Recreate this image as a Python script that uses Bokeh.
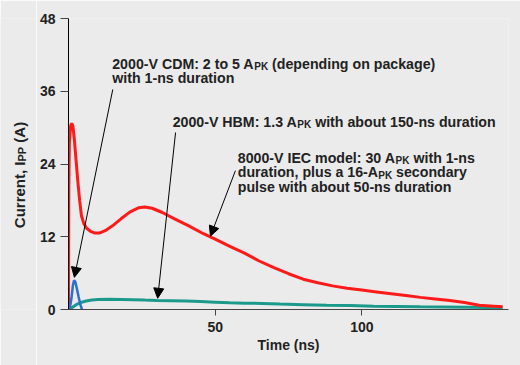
from bokeh.plotting import figure
from bokeh.models import Range1d, Label, Arrow, NormalHead, ColumnDataSource, FixedTicker
from bokeh.layouts import row
from bokeh.embed import file_html
from bokeh.resources import INLINE
import math

# ---- data (time in ns, current in A) ----
iec_t = [0, 0.1, 0.3, 0.7, 1.1, 1.5, 2.0, 2.6, 3.2, 3.8, 4.4, 5.2, 6.2, 7.5, 9.0, 10.5,
         12.5, 15, 18, 21, 24, 26, 28.5, 32, 36, 41, 46, 50, 55, 60, 65, 70, 75, 80,
         85, 90, 95, 100, 105, 110, 115, 120, 125, 130, 135, 140, 145, 148]
iec_i = [0, 20, 27.5, 30.2, 30.7, 30.3, 28, 24.5, 21, 18, 15.5, 14.2, 13.4, 12.9, 12.6, 12.6,
         13.0, 13.8, 15.0, 16.1, 16.8, 16.9, 16.7, 16.0, 15.0, 13.8, 12.5, 11.6, 10.4, 9.3, 8.0,
         6.9, 5.9, 5.0, 4.4, 3.9, 3.5, 3.2, 2.9, 2.6, 2.3, 2.0, 1.75, 1.5, 1.15, 0.7, 0.55, 0.45]

hbm_t = [0, 0.5, 1.5, 3, 4.5, 6, 8, 10, 14, 18, 22, 26, 30, 35, 40, 45, 50, 55, 60, 66,
         72, 80, 88, 96, 104, 112, 120, 128, 136, 142, 148]
hbm_i = [0, 0.05, 0.4, 0.9, 1.2, 1.4, 1.55, 1.65, 1.68, 1.67, 1.62, 1.55, 1.5, 1.45, 1.4,
         1.3, 1.2, 1.1, 1.05, 1.0, 0.9, 0.8, 0.7, 0.65, 0.55, 0.5, 0.45, 0.42, 0.38, 0.35, 0.3]

cdm_t = [0, 0.5, 1.0, 1.5, 1.9, 2.3, 2.8, 3.4, 4.0, 4.6]
cdm_i = [0, 0.4, 1.8, 4.0, 4.8, 4.6, 3.6, 2.2, 0.9, 0]

x_ticks = [50, 100]
y_ticks = [0, 12, 24, 36, 48]

# annotation arrows (start -> tip), data units
arr_x0 = [15.1, 36.5, 56.9]
arr_y0 = [36.3, 29.2, 22.9]
arr_x1 = [2.0, 30.4, 48.4]
arr_y1 = [5.3, 1.85, 12.1]

FONT = "Liberation Sans"
TXT = "#222222"
BG = "#ebebeb"

# Arial/Liberation Sans Bold advance widths (1/1000 em)
W = {' ': 278, '-': 333, ':': 333, ',': 278, '.': 278, '(': 333, ')': 333,
     'A': 722, 'B': 722, 'C': 722, 'D': 722, 'E': 667, 'H': 722, 'I': 278, 'K': 722,
     'M': 833, 'P': 667, 'T': 611, 'V': 667,
     'a': 556, 'b': 611, 'c': 556, 'd': 611, 'e': 556, 'g': 611, 'h': 611, 'i': 278,
     'k': 556, 'l': 278, 'm': 889, 'n': 611, 'o': 611, 'p': 611, 'r': 389, 's': 556,
     't': 333, 'u': 611, 'w': 778, 'y': 556}


def tw(s, size):
    return sum(W.get(c, 556) for c in s) / 1000.0 * size


SIDE_W = 36

# ---- main chart ----
p = figure(width=520 - SIDE_W, height=365, output_backend="svg", toolbar_location=None, tools="",
           x_range=Range1d(0, 150), y_range=Range1d(0, 48),
           min_border_left=67 - SIDE_W, min_border_right=12, min_border_top=18, min_border_bottom=56)
p.background_fill_color = BG
p.border_fill_color = BG
p.outline_line_color = None
p.xgrid.visible = False
p.ygrid.visible = False

for ax in (p.xaxis[0], p.yaxis[0]):
    ax.major_tick_in = 0
    ax.minor_tick_line_color = None
    ax.major_label_text_font = FONT
    ax.major_label_text_font_style = "bold"
    ax.major_label_text_font_size = "14px"
    ax.major_label_text_color = TXT

p.xaxis.ticker = FixedTicker(ticks=x_ticks)
p.yaxis.ticker = FixedTicker(ticks=y_ticks)
p.xaxis.axis_line_color = "#444444"
p.xaxis.major_tick_line_color = "#444444"
p.xaxis.major_tick_out = 6
p.xaxis.major_label_standoff = 6
p.yaxis.axis_line_color = "#000000"
p.yaxis.major_tick_line_color = "#444444"
p.yaxis.major_tick_out = 8
p.yaxis.major_label_standoff = 5

p.xaxis.axis_label = "Time (ns)"
p.xaxis.axis_label_text_font = FONT
p.xaxis.axis_label_text_font_style = "bold"
p.xaxis.axis_label_text_font_size = "14px"
p.xaxis.axis_label_text_color = TXT
p.xaxis.axis_label_standoff = 2

# curves
p.line(hbm_t, hbm_i, line_color="#1b9a8c", line_width=3)
p.line(iec_t, iec_i, line_color="#ff1a1a", line_width=3)
p.line(cdm_t, cdm_i, line_color="#2a6fd4", line_width=2.5)

# arrows
asrc = ColumnDataSource(dict(x0=arr_x0, y0=arr_y0, x1=arr_x1, y1=arr_y1))
p.add_layout(Arrow(end=NormalHead(size=10, fill_color="black", line_color="black", line_width=1),
                   x_start="x0", y_start="y0", x_end="x1", y_end="y1", source=asrc,
                   line_color="black", line_width=1))


def rich_line(fig, x, y, segs, size=14.2, sub=10, sub_drop=3, angle=0.0, base_off=0.0):
    """Draw one text line made of normal and subscript pieces."""
    off = 0.0
    for s, is_sub in segs:
        fs = sub if is_sub else size
        lead = len(s) - len(s.lstrip(" "))
        off += tw(" " * lead, fs)
        core = s.strip(" ")
        drop = sub_drop if is_sub else 0
        if angle == 0:
            xo, yo = off, -drop
        else:  # rotated 90 degrees counter-clockwise
            xo, yo = base_off + drop, off
        fig.add_layout(Label(x=x, y=y, x_offset=xo, y_offset=yo, angle=angle,
                             text=core, text_font=FONT, text_font_style="bold",
                             text_font_size=f"{fs}px", text_color=TXT,
                             text_align="left", text_baseline="alphabetic"))
        off += tw(core, fs)


LS = 14.5 / 6.0625  # line spacing in data units (y)
Y_CDM, Y_HBM, Y_IEC = 40.55, 30.95, 25.05

rich_line(p, 14.9, Y_CDM, [("2000-V CDM: 2 to 5 A", False), ("PK", True), (" (depending on package)", False)])
rich_line(p, 14.9, Y_CDM - LS, [("with 1-ns duration", False)])

rich_line(p, 35.5, Y_HBM, [("2000-V HBM: 1.3 A", False), ("PK", True), (" with about 150-ns duration", False)])

rich_line(p, 57.7, Y_IEC, [("8000-V IEC model: 30 A", False), ("PK", True), (" with 1-ns", False)])
rich_line(p, 57.7, Y_IEC - LS, [("duration, plus a 16-A", False), ("PK", True), (" secondary", False)])
rich_line(p, 57.7, Y_IEC - 2 * LS, [("pulse with about 50-ns duration", False)])

# ---- narrow strip on the left carrying the rotated y-axis title ----
side = figure(width=SIDE_W, height=365, output_backend="svg", toolbar_location=None, tools="",
              x_range=Range1d(0, SIDE_W), y_range=Range1d(0, 365),
              x_axis_type=None, y_axis_type=None,
              min_border_left=0, min_border_right=0, min_border_top=0, min_border_bottom=0)
side.background_fill_color = BG
side.border_fill_color = BG
side.outline_line_color = None
side.xgrid.visible = False
side.ygrid.visible = False
rich_line(side, 18.5, 102, [("Current, I", False), ("PP", True), (" (A)", False)],
          size=15, sub=11, sub_drop=3, angle=math.pi / 2)

layout = row(side, p, spacing=0)
open("out.html", "w").write(file_html(layout, INLINE))
